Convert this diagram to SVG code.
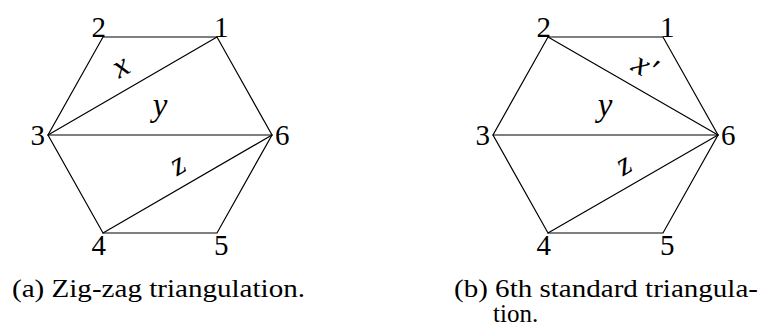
<svg xmlns="http://www.w3.org/2000/svg" width="763" height="332" viewBox="0 0 763 332">
<style>
.e{stroke:#000;stroke-width:1.2;fill:none;stroke-linecap:round}
.n{font-family:"Liberation Serif","DejaVu Serif",serif;font-size:29px;fill:#000}
.l{font-family:"Liberation Serif","DejaVu Serif",serif;font-size:33px;font-style:italic;fill:#000;text-anchor:middle}
.c{font-family:"Liberation Serif","DejaVu Serif",serif;font-size:25px;fill:#000}
</style>
<rect width="763" height="332" fill="#fff"/>
<g id="connectors">
<g id="left-edges">
<path class="e" d="M103,37 L217,37 L272,135 L217,233 L103,233 L48,135 Z"/>
<line class="e" x1="48" y1="135" x2="217" y2="37"/>
<line class="e" x1="48" y1="135" x2="272" y2="135"/>
<line class="e" x1="103" y1="233" x2="272" y2="135"/>
</g>
<g id="right-edges">
<path class="e" d="M548,37 L663,37 L718,135 L663,233 L548,233 L493,135 Z"/>
<line class="e" x1="548" y1="37" x2="718" y2="135"/>
<line class="e" x1="493" y1="135" x2="718" y2="135"/>
<line class="e" x1="548" y1="233" x2="718" y2="135"/>
</g>
</g>
<g id="left-nodes">
<g id="a1"><text class="n" x="214" y="37">1</text></g>
<g id="a2"><text class="n" x="106" y="37" text-anchor="end">2</text></g>
<g id="a3"><text class="n" x="45" y="145" text-anchor="end">3</text></g>
<g id="a4"><text class="n" x="106" y="255" text-anchor="end">4</text></g>
<g id="a5"><text class="n" x="214" y="255">5</text></g>
<g id="a6"><text class="n" x="275" y="145">6</text></g>
</g>
<g id="right-nodes">
<g id="b1"><text class="n" x="660" y="37">1</text></g>
<g id="b2"><text class="n" x="551" y="37" text-anchor="end">2</text></g>
<g id="b3"><text class="n" x="490" y="145" text-anchor="end">3</text></g>
<g id="b4"><text class="n" x="551" y="255" text-anchor="end">4</text></g>
<g id="b5"><text class="n" x="660" y="255">5</text></g>
<g id="b6"><text class="n" x="721" y="145">6</text></g>
</g>
<g id="edge-labels">
<text class="l" transform="translate(122,69) rotate(-30)" x="0" y="7">x</text>
<text class="l" x="160" y="116">y</text>
<text class="l" transform="translate(179,167) rotate(-30)" x="0" y="7">z</text>
<text class="l" transform="translate(643,69) rotate(30)" x="0" y="7">x′</text>
<text class="l" x="605" y="116">y</text>
<text class="l" transform="translate(625,167) rotate(-30)" x="0" y="7">z</text>
</g>
<g id="captions">
<text class="c" x="12" y="297" textLength="293" lengthAdjust="spacingAndGlyphs">(a) Zig-zag triangulation.</text>
<text class="c" x="454" y="297" textLength="304" lengthAdjust="spacingAndGlyphs">(b) 6th standard triangula-</text>
<text class="c" x="493" y="322">tion.</text>
</g>
</svg>
